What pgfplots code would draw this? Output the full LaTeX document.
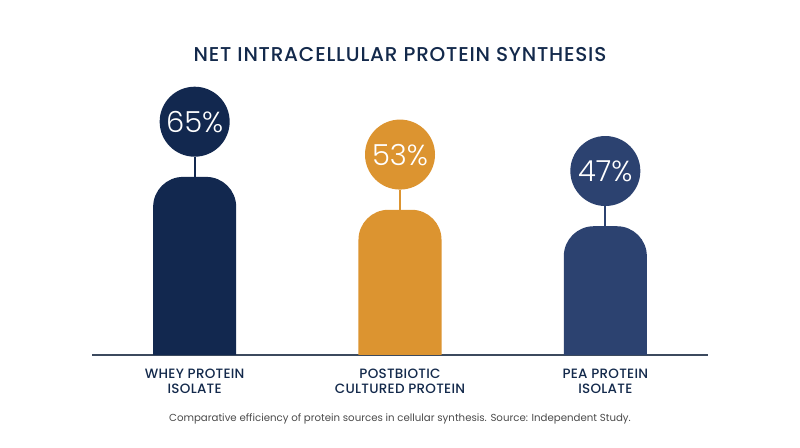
\documentclass[border=0pt]{standalone}
\usepackage{fontspec}
\usepackage{pgfplots}
\pgfplotsset{compat=1.18}
\setmainfont{Poppins}
\newfontfamily\lightfont{Poppins}[UprightFont={* Light}]
\newfontfamily\titlefont{Poppins}[UprightFont={* Medium}, LetterSpace=4]
\newfontfamily\catfont{Poppins}[UprightFont={* Medium}, LetterSpace=2]

\definecolor{navyc}{HTML}{12284F}
\definecolor{orangec}{HTML}{DC9430}
\definecolor{bluec}{HTML}{2C4270}
\definecolor{axisc}{HTML}{3C4A5E}
\definecolor{titlec}{HTML}{13294B}
\definecolor{capc}{HTML}{4A4A4A}

\pgfplotsset{
  bubble/.style={
    draw=none, mark=none,
    point meta=explicit symbolic,
    nodes near coords={\pgfplotspointmeta},
    nodes near coords style={
      circle, fill=#1, text=white, minimum size=70pt, inner sep=0pt,
      anchor=south, yshift=20pt,
      font=\lightfont\fontsize{29}{29}\selectfont,
      pin={[pin distance=20pt, pin edge={draw=#1, line width=2pt},
            inner sep=0pt, minimum size=0pt]-90:{}}
    }
  },
  barshape/.style={draw=none, fill=#1, rounded corners=30pt}
}

\begin{document}
\begin{tikzpicture}
\useasboundingbox (0,0) rectangle (800pt,447pt);
\node[anchor=base, text=titlec, font=\titlefont\fontsize{20}{24}\selectfont]
  at (400pt,385pt) {NET INTRACELLULAR PROTEIN SYNTHESIS};
\begin{axis}[
  at={(92pt,92pt)}, anchor=south west,
  width=616pt, height=274pt, scale only axis,
  xmin=-0.5, xmax=2.5, ymin=0, ymax=100,
  axis y line=none, axis x line*=bottom,
  x axis line style={draw=axisc, line width=1.5pt, -},
  xtick={0,1,2},
  xticklabels={WHEY PROTEIN\\ISOLATE, POSTBIOTIC\\CULTURED PROTEIN, PEA PROTEIN\\ISOLATE},
  major tick length=0pt,
  xticklabel style={align=center, text=titlec, inner sep=0pt, yshift=-14pt,
    font=\catfont\fontsize{13.5}{15}\selectfont},
  clip=false,
]
\addplot[barshape=navyc] coordinates {(-0.2022,0) (-0.2022,65) (0.2022,65) (0.2022,0)};
\addplot[barshape=orangec] coordinates {(0.7978,0) (0.7978,53) (1.2022,53) (1.2022,0)};
\addplot[barshape=bluec] coordinates {(1.7978,0) (1.7978,47) (2.2022,47) (2.2022,0)};

\addplot[bubble=navyc] coordinates {(0,65) [65\%]};
\addplot[bubble=orangec] coordinates {(1,53) [53\%]};
\addplot[bubble=bluec] coordinates {(2,47) [47\%]};
\end{axis}
\node[anchor=base, text=capc, font=\fontsize{10.2}{12}\selectfont]
  at (400pt,26pt) {Comparative efficiency of protein sources in cellular synthesis. Source: Independent Study.};
\end{tikzpicture}
\end{document}
